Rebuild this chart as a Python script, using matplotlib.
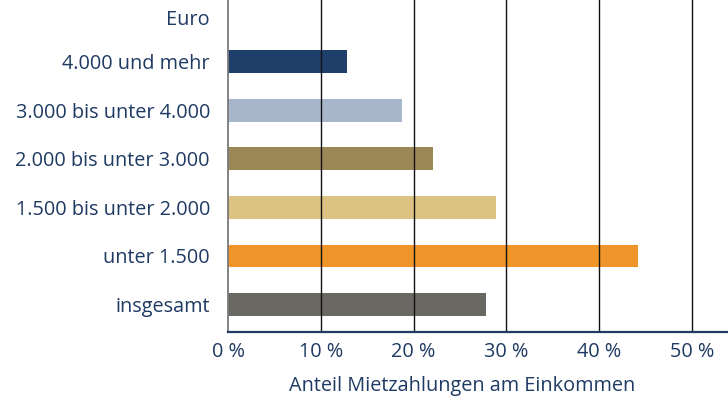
import matplotlib
matplotlib.use("Agg")
import matplotlib.pyplot as plt

categories = ["insgesamt", "unter 1.500", "1.500 bis unter 2.000",
              "2.000 bis unter 3.000", "3.000 bis unter 4.000", "4.000 und mehr"]
values = [27.8, 44.2, 28.9, 22.1, 18.8, 12.8]
colors = ["#6a6863", "#f0952a", "#dcc283", "#9c8757", "#a8b6cb", "#1f3f6b"]
xticks = [0, 10, 20, 30, 40, 50]
xticklabels = ["0 %", "10 %", "20 %", "30 %", "40 %", "50 %"]

txt = "#1f3a63"
plt.rcParams['font.family'] = ['Open Sans', 'DejaVu Sans']
fs = 14.3

fig = plt.figure(figsize=(7.28, 4.16), dpi=100)
ax = fig.add_axes([228/728, 84/416, 500/728, 332/416])

ypos = list(range(len(categories)))
ax.barh(ypos, values, height=0.47, color=colors, zorder=2)
for x in xticks[1:]:
    ax.axvline(x, color="#111111", lw=1.0, zorder=3)

ax.set_xlim(0, 53.9)
ax.set_ylim(-0.566, 6.27)
ax.set_yticks(ypos)
ax.set_yticklabels(categories, fontsize=fs, color=txt)
ax.set_xticks(xticks)
ax.set_xticklabels(xticklabels, fontsize=fs, color=txt)
ax.tick_params(axis='y', length=0, pad=13)
ax.tick_params(axis='x', length=0, pad=7)

for s in ["top", "right"]:
    ax.spines[s].set_visible(False)
ax.spines["left"].set_color("#7a7a7a")
ax.spines["left"].set_linewidth(1.3)
ax.spines["bottom"].set_color("#1f3a63")
ax.spines["bottom"].set_linewidth(1.6)
ax.spines["bottom"].set_zorder(4)

fig.text(210/728, 1 - 20/416, "Euro", ha="right", va="center", fontsize=fs, color=txt)
fig.text(462/728, 1 - 386/416, "Anteil Mietzahlungen am Einkommen", ha="center", va="center",
         fontsize=fs, color=txt)

fig.savefig("out.png", dpi=100)
